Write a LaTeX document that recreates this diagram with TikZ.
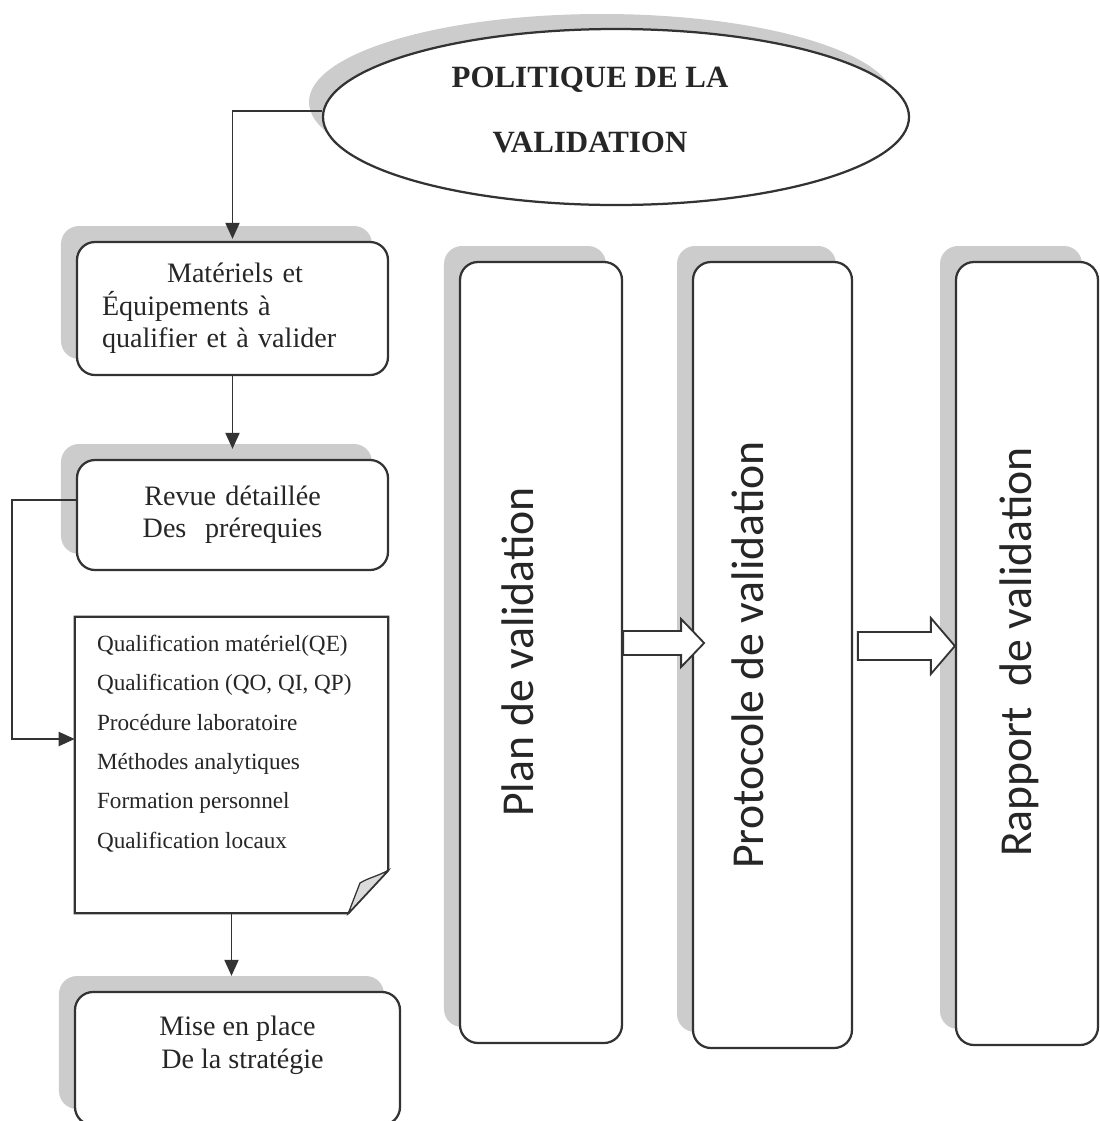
\documentclass[tikz,border=0pt]{standalone}
\usepackage{fontspec}
\setmainfont{Liberation Serif}
\newfontfamily\carlito{Carlito}
\usetikzlibrary{arrows.meta,positioning,shapes.geometric,shadows,calc}
\newlength{\pxl}
\setlength{\pxl}{0.025cm}
\tikzset{
  ombre/.style={drop shadow={shadow xshift=-0.4cm, shadow yshift=0.4cm, fill=black!20, opacity=1}},
  boite/.style={rectangle, rounded corners=0.45cm, draw=black!80, line width=1.6pt, fill=white,
                inner sep=0pt, ombre, font=\fontsize{20}{23}\selectfont, text=black!85},
  ovale/.style={ellipse, draw=black!80, line width=1.6pt, fill=white, inner sep=0pt,
                drop shadow={shadow xshift=-0.35cm, shadow yshift=0.375cm, fill=black!20, opacity=1}},
  titre/.style={font=\fontsize{22}{46}\selectfont\bfseries, align=center, text=black!85, inner sep=0pt},
  txt/.style={font=\fontsize{20}{23}\selectfont, align=center, text=black!85, inner sep=0pt},
  liste/.style={font=\fontsize{16.5}{28}\selectfont, align=left, text=black!85, inner sep=0pt},
  vert/.style={rotate=90, font=\carlito\fontsize{32.5}{36}\selectfont, text=black!85, inner sep=0pt},
  fil/.style={draw=black!80, line width=1.4pt, -{Triangle[length=4mm, width=3.5mm]}},
  bloc/.style={draw=black!80, line width=1.3pt, fill=white, line join=miter},
  pli/.style={draw=black!80, line width=1.6pt},
}

\begin{document}
\begin{tikzpicture}[x=0.025cm, y=-0.025cm]
\clip (0,0) rectangle (1100,1121);

% ============================ politique ==============================
\node[ovale, minimum width=586\pxl, minimum height=176\pxl] (pol) at (616,117) {};
\node[titre] (tit) at (590,110) {POLITIQUE DE LA\\VALIDATION};

% ============================ colonne gauche ==========================
\node[boite, minimum width=311\pxl, minimum height=133\pxl, text width=261\pxl, align=left]
  (mat) at (232.5,308.5) {\hspace*{65\pxl}Matériels et\\Équipements à\\qualifier et à valider};
\node[boite, minimum width=311\pxl, minimum height=110\pxl, text width=261\pxl, align=center]
  (revue) at (232.5,515) {Revue détaillée\\Des\ \ prérequies};

\node[minimum width=313\pxl, minimum height=296\pxl, inner sep=0pt] (note) at (231.5,765) {};
\draw[pli, fill=white] (note.north west) -- (note.north east) -- ($(note.south east)+(0,-43)$)
  -- ($(note.south east)+(-40,0)$) -- (note.south west) -- cycle;
\filldraw[pli, line width=0.9pt, fill=black!14] ($(note.south east)+(0,-43)$)
  .. controls (378,876) and (368,878) .. (360,883) -- ($(note.south east)+(-40,0)$) -- cycle;
\node[liste, below right=18\pxl and 22\pxl of note.north west] (liste)
  {Qualification matériel(QE)\\Qualification (QO, QI, QP)\\Procédure laboratoire\\
   Méthodes analytiques\\Formation personnel\\Qualification locaux};

\node[boite, minimum width=325\pxl, minimum height=133\pxl] (strat) at (237.5,1058.5) {};
\node[txt, below=25\pxl of strat.north] (strattxt) {Mise en place\\\hspace*{10\pxl}De la stratégie};

% ============================ colonnes droite =========================
\node[boite, minimum width=162\pxl, minimum height=781\pxl] (plan) at (541,652.5) {};
\node[boite, minimum width=159\pxl, minimum height=786\pxl] (proto) at (772.5,655) {};
\node[boite, minimum width=142\pxl, minimum height=783\pxl] (rapp) at (1027,653.5) {};

\node[vert, anchor=base] (tplan) at (533,652) {Plan de validation};
\node[vert, anchor=base] (tproto) at (763,655) {Protocole de validation};
\node[vert, anchor=base] (trapp) at (1031,652) {Rapport\ \ de validation};

% ============================ liaisons ================================
\draw[fil, shorten >=0.5mm] ([yshift=6\pxl]pol.west) -| (mat.north);
\draw[fil, shorten >=2.5mm] (mat.south) -- (revue.north);
\coordinate (coin) at (12,739);
\draw[fil] ([yshift=15\pxl]revue.west) -| (coin) -- (coin -| note.west);
\draw[fil, shorten >=3.75mm] (note.south) -- (note.south |- strat.north);

\draw[bloc] (plan.east |- 0,631) -- ++(58,0) -- ++(0,-12) -- ++(23,24) -- ++(-23,24)
  -- ++(0,-12) -- (plan.east |- 0,655) -- cycle;
\draw[bloc] (rapp.west |- 0,646) -- ++(-24,-28) -- ++(0,14) -- ++(-73,0) -- ++(0,28)
  -- ++(73,0) -- ++(0,14) -- cycle;

\end{tikzpicture}
\end{document}
